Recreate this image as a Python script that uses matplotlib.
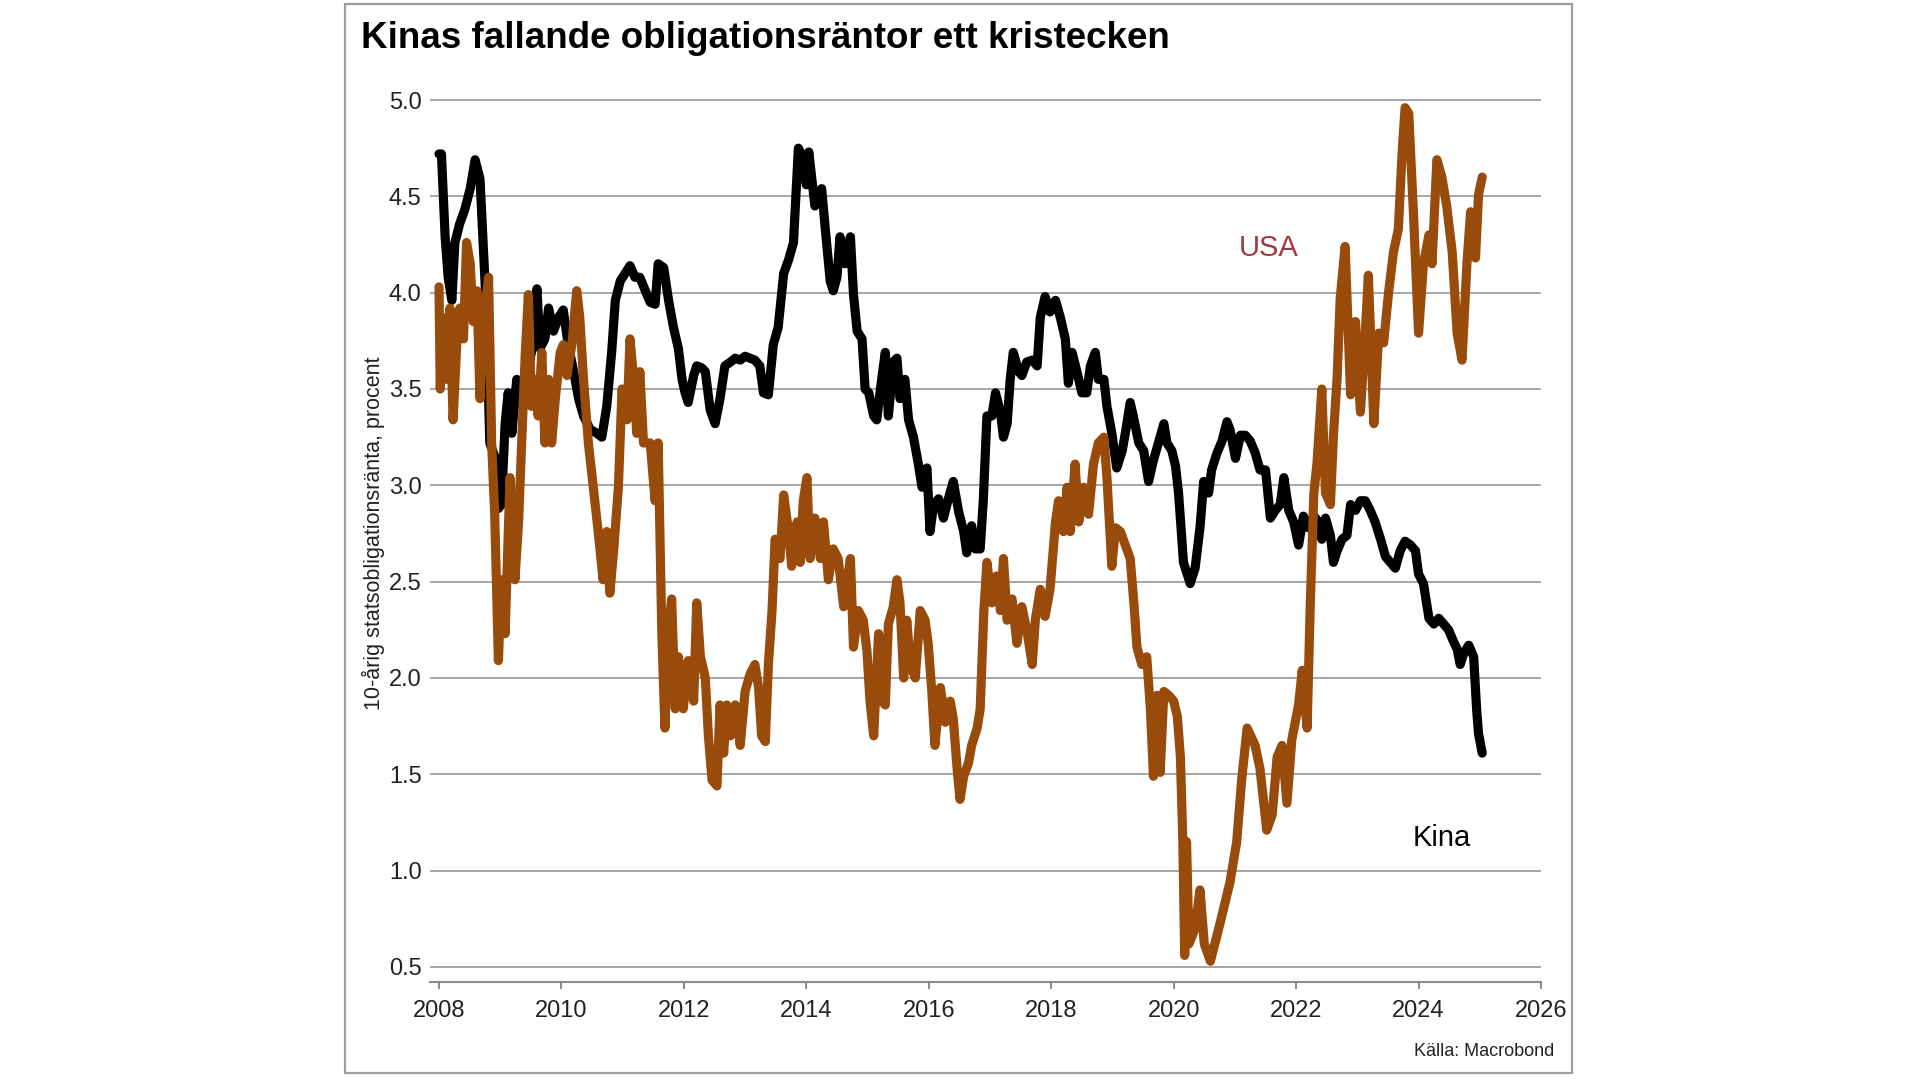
import matplotlib
matplotlib.use("Agg")
import matplotlib.pyplot as plt
from matplotlib.patches import Rectangle

plt.rcParams['font.family'] = ['Liberation Sans', 'DejaVu Sans']

# 10-årig statsobligationsränta (decimalår, procent)
kina_x = [2008.00, 2008.04, 2008.10, 2008.15, 2008.21, 2008.26, 2008.34, 2008.42, 2008.51, 2008.59,
          2008.67, 2008.72, 2008.78, 2008.81, 2008.83, 2008.91, 2008.97, 2009.02, 2009.08, 2009.13,
          2009.19, 2009.27, 2009.35, 2009.43, 2009.51, 2009.60, 2009.65, 2009.73, 2009.79, 2009.87,
          2009.95, 2010.03, 2010.11, 2010.20, 2010.28, 2010.36, 2010.47, 2010.58, 2010.66, 2010.74,
          2010.82, 2010.88, 2010.96, 2011.04, 2011.12, 2011.20, 2011.28, 2011.37, 2011.45, 2011.53,
          2011.58, 2011.67, 2011.75, 2011.83, 2011.91, 2011.97, 2012.02, 2012.07, 2012.16, 2012.21,
          2012.29, 2012.35, 2012.43, 2012.51, 2012.59, 2012.67, 2012.76, 2012.84, 2012.92, 2013.00,
          2013.08, 2013.16, 2013.24, 2013.30, 2013.38, 2013.46, 2013.54, 2013.63, 2013.71, 2013.79,
          2013.87, 2013.95, 2014.00, 2014.04, 2014.14, 2014.25, 2014.31, 2014.39, 2014.44, 2014.50,
          2014.55, 2014.63, 2014.72, 2014.77, 2014.83, 2014.91, 2014.96, 2015.02, 2015.10, 2015.15,
          2015.23, 2015.29, 2015.34, 2015.42, 2015.48, 2015.53, 2015.61, 2015.67, 2015.75, 2015.83,
          2015.89, 2015.97, 2016.02, 2016.08, 2016.16, 2016.24, 2016.32, 2016.40, 2016.49, 2016.57,
          2016.62, 2016.70, 2016.76, 2016.84, 2016.89, 2016.95, 2017.03, 2017.09, 2017.17, 2017.22,
          2017.28, 2017.33, 2017.38, 2017.47, 2017.52, 2017.60, 2017.69, 2017.77, 2017.82, 2017.90,
          2017.98, 2018.07, 2018.15, 2018.23, 2018.28, 2018.34, 2018.42, 2018.50, 2018.58, 2018.64,
          2018.72, 2018.77, 2018.86, 2018.91, 2018.99, 2019.07, 2019.16, 2019.21, 2019.29, 2019.34,
          2019.43, 2019.51, 2019.59, 2019.67, 2019.75, 2019.84, 2019.89, 2019.97, 2020.03, 2020.08,
          2020.16, 2020.27, 2020.35, 2020.43, 2020.49, 2020.57, 2020.62, 2020.71, 2020.79, 2020.87,
          2020.92, 2021.01, 2021.09, 2021.17, 2021.25, 2021.33, 2021.41, 2021.50, 2021.58, 2021.66,
          2021.74, 2021.80, 2021.88, 2021.96, 2022.04, 2022.12, 2022.20, 2022.29, 2022.37, 2022.42,
          2022.48, 2022.56, 2022.61, 2022.67, 2022.75, 2022.83, 2022.89, 2022.97, 2023.05, 2023.13,
          2023.21, 2023.29, 2023.38, 2023.46, 2023.54, 2023.62, 2023.70, 2023.78, 2023.87, 2023.95,
          2024.00, 2024.08, 2024.17, 2024.25, 2024.33, 2024.41, 2024.49, 2024.57, 2024.63, 2024.68,
          2024.74, 2024.82, 2024.90, 2024.95, 2024.98, 2025.04]
kina_y = [4.72, 4.72, 4.29, 4.08, 3.96, 4.26, 4.36, 4.43, 4.54, 4.69,
          4.59, 4.26, 3.87, 3.45, 3.22, 3.15, 2.88, 2.90, 3.32, 3.48,
          3.27, 3.55, 3.43, 3.57, 3.69, 4.02, 3.71, 3.76, 3.92, 3.80,
          3.87, 3.91, 3.73, 3.59, 3.45, 3.36, 3.29, 3.27, 3.25, 3.41,
          3.69, 3.96, 4.06, 4.10, 4.14, 4.08, 4.08, 4.01, 3.95, 3.94,
          4.15, 4.13, 3.96, 3.82, 3.71, 3.55, 3.48, 3.43, 3.57, 3.62,
          3.61, 3.59, 3.39, 3.32, 3.45, 3.62, 3.64, 3.66, 3.65, 3.67,
          3.66, 3.65, 3.62, 3.48, 3.47, 3.73, 3.82, 4.10, 4.17, 4.26,
          4.75, 4.70, 4.56, 4.73, 4.45, 4.54, 4.33, 4.06, 4.01, 4.08,
          4.29, 4.15, 4.29, 3.99, 3.80, 3.76, 3.50, 3.48, 3.36, 3.34,
          3.55, 3.69, 3.36, 3.64, 3.66, 3.45, 3.55, 3.34, 3.25, 3.11,
          2.99, 3.09, 2.76, 2.90, 2.93, 2.83, 2.93, 3.02, 2.86, 2.76,
          2.65, 2.79, 2.67, 2.67, 2.92, 3.36, 3.36, 3.48, 3.38, 3.25,
          3.32, 3.55, 3.69, 3.59, 3.57, 3.64, 3.65, 3.62, 3.87, 3.98,
          3.90, 3.96, 3.87, 3.76, 3.53, 3.69, 3.59, 3.48, 3.48, 3.62,
          3.69, 3.55, 3.55, 3.41, 3.27, 3.09, 3.18, 3.27, 3.43, 3.36,
          3.22, 3.18, 3.02, 3.13, 3.22, 3.32, 3.22, 3.18, 3.10, 2.96,
          2.60, 2.49, 2.57, 2.78, 3.02, 2.96, 3.08, 3.17, 3.23, 3.33,
          3.29, 3.14, 3.26, 3.26, 3.23, 3.17, 3.08, 3.08, 2.83, 2.87,
          2.90, 3.04, 2.87, 2.81, 2.69, 2.84, 2.78, 2.84, 2.81, 2.72,
          2.83, 2.74, 2.60, 2.66, 2.72, 2.74, 2.90, 2.87, 2.92, 2.92,
          2.87, 2.81, 2.72, 2.63, 2.60, 2.57, 2.66, 2.71, 2.69, 2.66,
          2.54, 2.49, 2.31, 2.28, 2.31, 2.28, 2.25, 2.19, 2.15, 2.07,
          2.13, 2.17, 2.11, 1.83, 1.71, 1.61]

usa_x = [2008.00, 2008.02, 2008.07, 2008.13, 2008.18, 2008.23, 2008.29, 2008.34, 2008.40, 2008.45,
         2008.51, 2008.56, 2008.62, 2008.67, 2008.72, 2008.81, 2008.86, 2008.91, 2008.97, 2009.02,
         2009.08, 2009.16, 2009.24, 2009.30, 2009.35, 2009.41, 2009.46, 2009.51, 2009.57, 2009.62,
         2009.68, 2009.73, 2009.79, 2009.84, 2009.90, 2009.98, 2010.03, 2010.09, 2010.17, 2010.25,
         2010.30, 2010.36, 2010.44, 2010.52, 2010.60, 2010.68, 2010.74, 2010.79, 2010.85, 2010.93,
         2010.99, 2011.07, 2011.12, 2011.18, 2011.23, 2011.28, 2011.34, 2011.45, 2011.53, 2011.58,
         2011.64, 2011.69, 2011.75, 2011.80, 2011.86, 2011.91, 2011.99, 2012.07, 2012.16, 2012.21,
         2012.27, 2012.35, 2012.40, 2012.46, 2012.54, 2012.59, 2012.65, 2012.70, 2012.76, 2012.84,
         2012.92, 2013.00, 2013.08, 2013.16, 2013.22, 2013.27, 2013.33, 2013.38, 2013.44, 2013.49,
         2013.57, 2013.63, 2013.71, 2013.76, 2013.85, 2013.90, 2013.95, 2014.01, 2014.06, 2014.14,
         2014.23, 2014.28, 2014.36, 2014.44, 2014.52, 2014.61, 2014.72, 2014.77, 2014.85, 2014.93,
         2014.99, 2015.04, 2015.10, 2015.18, 2015.23, 2015.29, 2015.34, 2015.42, 2015.48, 2015.53,
         2015.59, 2015.64, 2015.70, 2015.78, 2015.86, 2015.94, 2015.99, 2016.05, 2016.10, 2016.19,
         2016.27, 2016.35, 2016.40, 2016.46, 2016.51, 2016.57, 2016.65, 2016.70, 2016.79, 2016.84,
         2016.90, 2016.95, 2017.03, 2017.11, 2017.17, 2017.22, 2017.28, 2017.36, 2017.44, 2017.52,
         2017.60, 2017.69, 2017.74, 2017.82, 2017.90, 2017.98, 2018.07, 2018.12, 2018.20, 2018.26,
         2018.31, 2018.39, 2018.45, 2018.53, 2018.61, 2018.69, 2018.77, 2018.86, 2018.91, 2018.99,
         2019.05, 2019.13, 2019.21, 2019.29, 2019.35, 2019.40, 2019.48, 2019.56, 2019.62, 2019.67,
         2019.73, 2019.78, 2019.84, 2019.92, 2020.00, 2020.06, 2020.11, 2020.15, 2020.18, 2020.21,
         2020.25, 2020.35, 2020.43, 2020.50, 2020.60, 2020.76, 2020.92, 2021.03, 2021.11, 2021.20,
         2021.33, 2021.41, 2021.52, 2021.61, 2021.69, 2021.77, 2021.85, 2021.93, 2022.04, 2022.10,
         2022.18, 2022.23, 2022.29, 2022.34, 2022.42, 2022.48, 2022.56, 2022.61, 2022.67, 2022.72,
         2022.80, 2022.89, 2022.97, 2023.05, 2023.13, 2023.18, 2023.27, 2023.35, 2023.43, 2023.51,
         2023.59, 2023.67, 2023.73, 2023.78, 2023.84, 2023.92, 2024.00, 2024.08, 2024.17, 2024.22,
         2024.30, 2024.38, 2024.46, 2024.55, 2024.63, 2024.71, 2024.79, 2024.85, 2024.93, 2024.98,
         2025.04]
usa_y = [4.03, 3.50, 3.87, 3.55, 3.92, 3.34, 3.73, 3.92, 3.76, 4.26,
         4.15, 3.85, 4.01, 3.45, 3.82, 4.08, 3.22, 2.85, 2.09, 2.51,
         2.23, 3.04, 2.51, 2.81, 3.22, 3.69, 3.99, 3.41, 3.55, 3.36,
         3.69, 3.22, 3.55, 3.22, 3.45, 3.69, 3.73, 3.57, 3.73, 4.01,
         3.87, 3.55, 3.22, 2.99, 2.76, 2.51, 2.76, 2.44, 2.65, 2.99,
         3.50, 3.34, 3.76, 3.55, 3.27, 3.59, 3.22, 3.22, 2.92, 3.22,
         2.23, 1.74, 2.25, 2.41, 1.84, 2.11, 1.84, 2.09, 1.88, 2.39,
         2.11, 2.00, 1.70, 1.47, 1.44, 1.86, 1.61, 1.86, 1.70, 1.86,
         1.65, 1.93, 2.02, 2.07, 1.95, 1.70, 1.67, 2.07, 2.35, 2.72,
         2.62, 2.95, 2.76, 2.58, 2.81, 2.60, 2.92, 3.04, 2.62, 2.83,
         2.62, 2.81, 2.51, 2.67, 2.62, 2.37, 2.62, 2.16, 2.35, 2.30,
         2.14, 1.88, 1.70, 2.23, 1.88, 1.86, 2.28, 2.37, 2.51, 2.39,
         2.00, 2.30, 2.07, 2.00, 2.35, 2.30, 2.18, 1.93, 1.65, 1.95,
         1.77, 1.88, 1.79, 1.54, 1.37, 1.49, 1.56, 1.65, 1.74, 1.84,
         2.35, 2.60, 2.39, 2.53, 2.35, 2.62, 2.30, 2.41, 2.18, 2.37,
         2.25, 2.07, 2.30, 2.46, 2.32, 2.46, 2.81, 2.92, 2.76, 2.99,
         2.76, 3.11, 2.81, 2.99, 2.85, 3.11, 3.22, 3.25, 3.04, 2.58,
         2.78, 2.76, 2.69, 2.62, 2.39, 2.16, 2.07, 2.11, 1.84, 1.49,
         1.91, 1.51, 1.93, 1.91, 1.88, 1.80, 1.59, 1.15, 0.56, 1.15,
         0.62, 0.70, 0.90, 0.62, 0.53, 0.73, 0.94, 1.15, 1.47, 1.74,
         1.65, 1.53, 1.21, 1.29, 1.59, 1.65, 1.35, 1.68, 1.86, 2.04,
         1.74, 2.37, 2.96, 3.11, 3.50, 2.96, 2.90, 3.26, 3.56, 3.97,
         4.24, 3.47, 3.85, 3.38, 3.79, 4.09, 3.32, 3.79, 3.74, 4.00,
         4.21, 4.33, 4.72, 4.96, 4.93, 4.39, 3.79, 4.15, 4.30, 4.15,
         4.69, 4.60, 4.45, 4.21, 3.79, 3.65, 4.15, 4.42, 4.18, 4.51,
         4.60]

x_ticks = list(range(2008, 2027, 2))
y_ticks = [0.5, 1.0, 1.5, 2.0, 2.5, 3.0, 3.5, 4.0, 4.5, 5.0]

orange = '#984B0B'
grid_col = '#A6A6A6'
text_col = '#222222'

fig = plt.figure(figsize=(19.2, 10.8), dpi=100)

# ram runt hela grafiken
fig.patches.append(Rectangle((345 / 1920, 1 - 1073 / 1080), (1572 - 345) / 1920, (1073 - 4) / 1080,
                             transform=fig.transFigure, fill=False, edgecolor='#9E9E9E', linewidth=1.6))

ax = fig.add_axes([430 / 1920, 1 - 982 / 1080, (1541 - 430) / 1920, (982 - 95) / 1080])

ax.plot(kina_x, kina_y, color='black', linewidth=6.6, solid_joinstyle='round', solid_capstyle='round', zorder=3)
ax.plot(usa_x, usa_y, color=orange, linewidth=6.6, solid_joinstyle='round', solid_capstyle='round', zorder=4)

ax.set_xlim(2007.853, 2026.0)
ax.set_ylim(0.422, 5.026)
ax.set_xticks(x_ticks)
ax.set_xticklabels([str(t) for t in x_ticks])
ax.set_yticks(y_ticks)
ax.set_yticklabels(['%.1f' % t for t in y_ticks])

ax.grid(axis='y', color=grid_col, linewidth=1.4, zorder=0)
ax.set_axisbelow(True)
for s in ['left', 'right', 'top']:
    ax.spines[s].set_visible(False)
ax.spines['bottom'].set_color('#8C8C8C')
ax.spines['bottom'].set_linewidth(1.5)

ax.tick_params(axis='x', direction='out', length=5, width=1.5, color='#8C8C8C',
               labelsize=17, labelcolor=text_col, pad=8)
ax.tick_params(axis='y', length=0, labelsize=17, labelcolor=text_col, pad=6)

fig.text(361 / 1920, 1 - 39 / 1080, 'Kinas fallande obligationsräntor ett kristecken',
         fontsize=26.5, fontweight='bold', color='black', ha='left', va='center')
fig.text(373 / 1920, 1 - 533 / 1080, '10-årig statsobligationsränta, procent',
         fontsize=15.5, rotation=90, color=text_col, ha='center', va='center')
fig.text(1554 / 1920, 1 - 1051 / 1080, 'Källa: Macrobond',
         fontsize=13, color=text_col, ha='right', va='center')

ax.text(2021.55, 4.23, 'USA', fontsize=21, color='#A03A40', ha='center', va='center')
ax.text(2024.38, 1.17, 'Kina', fontsize=21, color='black', ha='center', va='center')

fig.savefig('out.png', dpi=100)
